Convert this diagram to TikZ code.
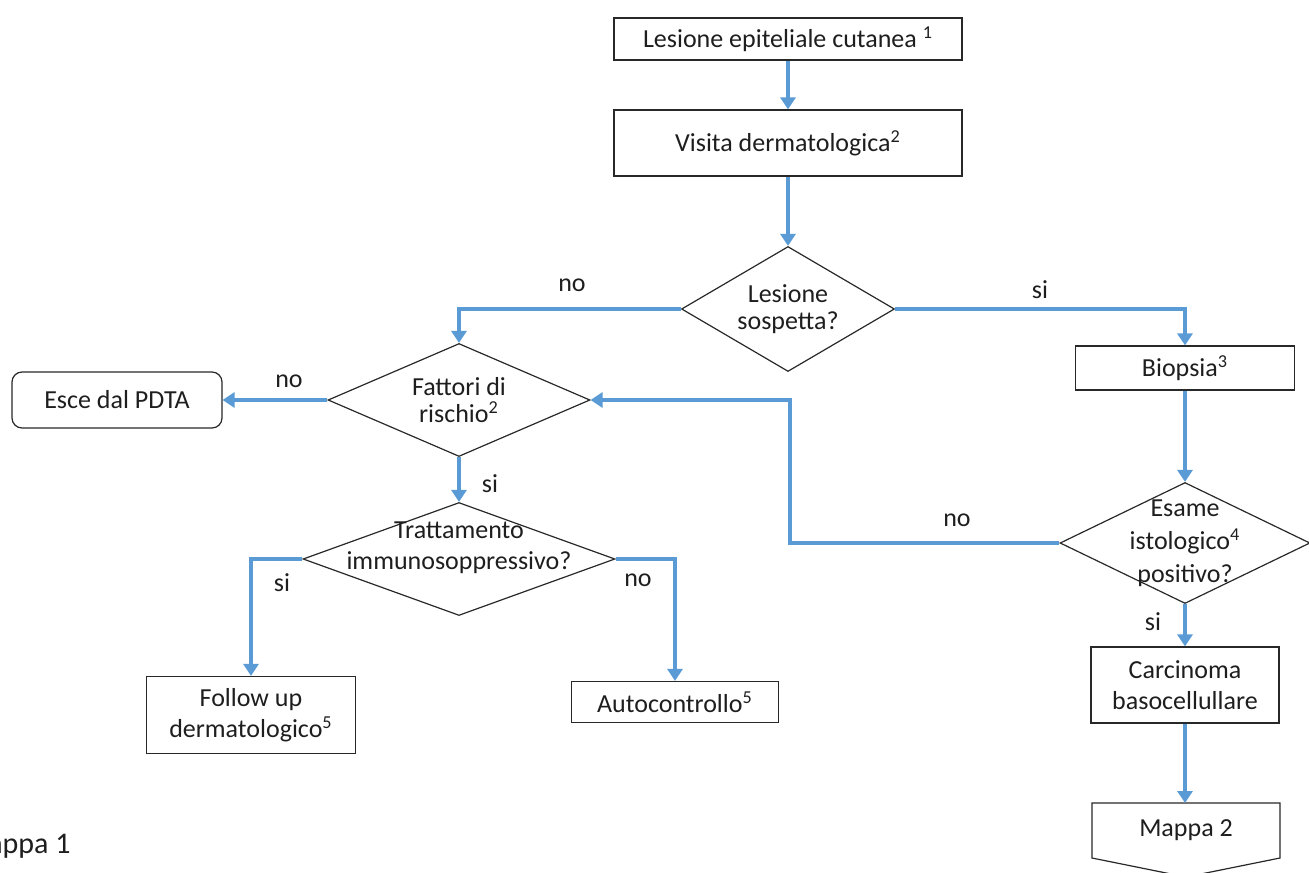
\documentclass[tikz,border=0pt]{standalone}
\usepackage{fontspec}
\setmainfont{Carlito}
\usetikzlibrary{shapes.geometric,arrows.meta}
\definecolor{arrblue}{RGB}{91,155,213}
\definecolor{edge}{RGB}{40,40,40}
\definecolor{txtc}{RGB}{30,30,30}
\newcommand{\fs}{\fontsize{13}{15.5}\selectfont}
\begin{document}
\begin{tikzpicture}[x=0.5pt,y=-0.5pt,
 box/.style={draw=edge, line width=0.6pt, inner sep=0, align=center, font=\fs, text=txtc},
 dia/.style={diamond, draw=edge, line width=0.6pt, inner sep=0},
 txt/.style={align=center, font=\fs, inner sep=0, text=txtc},
 arr/.style={draw=arrblue, line width=2.1pt, -{Triangle[length=6pt,width=7.5pt]}},
 lab/.style={font=\fs, inner sep=0, text=txtc}]
\useasboundingbox (0,0) rectangle (1309,872);
\clip (0,0) rectangle (1309,872);
% nodes
\node[box, minimum width=174pt, minimum height=21pt] (b1) at (788,39) {Lesione epiteliale cutanea \textsuperscript{1}};
\node[box, minimum width=174pt, minimum height=33pt] (b2) at (788,143) {Visita dermatologica\textsuperscript{2}};
\node[dia, minimum width=106.5pt, minimum height=62.5pt] (d1) at (788,309) {};
\node[txt] (d1t) at (788,309) {Lesione\\[-2pt]sospetta?};
\node[box, minimum width=109.5pt, minimum height=22pt] (bio) at (1185,368) {Biopsia\textsuperscript{3}};
\node[dia, minimum width=125pt, minimum height=60.5pt] (d3) at (1185,543) {};
\node[txt] (d3t) at (1185,543) {Esame\\[1pt]istologico\textsuperscript{4}\\[1pt]positivo?};
\node[dia, minimum width=131pt, minimum height=56.5pt] (d2) at (459,400) {};
\node[txt] (d2t) at (459,400) {Fattori di\\[-2pt]rischio\textsuperscript{2}};
\node[box, rounded corners=5pt, minimum width=105pt, minimum height=28pt] (esce) at (117,400) {Esce dal PDTA};
\node[dia, minimum width=156pt, minimum height=56.5pt] (d4) at (459,559) {};
\node[txt] (d4t) at (459,548) {Trattamento\\immunosoppressivo?};
\node[box, minimum width=104.5pt, minimum height=38.5pt] (fol) at (251,715) {Follow up\\dermatologico\textsuperscript{5}};
\node[box, minimum width=103.5pt, minimum height=20.5pt] (auto) at (675,702) {Autocontrollo\textsuperscript{5}};
\node[box, minimum width=94pt, minimum height=38pt] (carc) at (1185,685) {Carcinoma\\basocellullare};
\draw[edge, line width=0.6pt] (1092,803) -- (1280,803) -- (1280,858) -- (1186,877) -- (1092,858) -- cycle;
\coordinate (m2top) at (1185,803);
\node[txt] (m2) at (1186,830) {Mappa 2};
\node[txt, anchor=east, font=\fontsize{15}{17}\selectfont] (m1) at (71,846) {Mappa 1};
\coordinate (c1) at (790,400);
% connectors
\draw[arr] (b1) -- (b2);
\draw[arr] (b2) -- (d1);
\draw[arr] (d1.west) -| (d2.north);
\draw[arr] (d1.east) -| (bio.north);
\draw[arr] (bio) -- (d3);
\draw[arr] (d3.west) -| (c1) -- (d2.east);
\draw[arr] (d2.west) -- (esce.east);
\draw[arr] (d2.south) -- (d4.north);
\draw[arr] (d4.west) -| (fol.north);
\draw[arr] (d4.east) -| (auto.north);
\draw[arr] (d3.south) -- (carc.north);
\draw[arr] (carc.south) -- (m2top);
% labels
\node[lab] (l1) at (572,285) {no};
\node[lab] (l2) at (1040,290) {si};
\node[lab] (l3) at (289,381) {no};
\node[lab] (l4) at (490,484) {si};
\node[lab] (l5) at (282,583) {si};
\node[lab] (l6) at (638,580) {no};
\node[lab] (l7) at (957,520) {no};
\node[lab] (l8) at (1153,622) {si};
\end{tikzpicture}
\end{document}
